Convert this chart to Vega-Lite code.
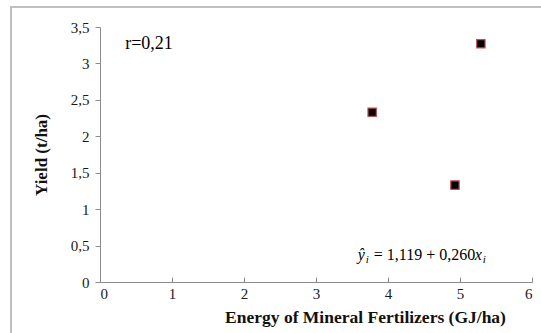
{
  "$schema": "https://vega.github.io/schema/vega-lite/v6.json",
  "autosize": "none",
  "width": 432,
  "height": 255,
  "padding": {"left": 100, "top": 27, "right": 9, "bottom": 51},
  "background": "white",
  "config": {
    "view": {"stroke": null},
    "font": "Liberation Serif",
    "axis": {"labelFont": "Liberation Serif", "labelFontSize": 15, "labelColor": "#1a1a1a", "titleFont": "Liberation Serif"}
  },
  "datasets": {
    "points": [
      {"energy": 3.78, "yield": 2.33},
      {"energy": 4.93, "yield": 1.33},
      {"energy": 5.29, "yield": 3.27}
    ]
  },
  "encoding": {
    "x": {
      "field": "energy", "type": "quantitative",
      "scale": {"domain": [0, 6], "nice": false, "zero": false},
      "axis": {
        "title": "Energy of Mineral Fertilizers  (GJ/ha)",
        "values": [0, 1, 2, 3, 4, 5, 6],
        "format": "d",
        "grid": false,
        "domainColor": "#8c8c8c", "tickColor": "#8c8c8c",
        "tickSize": -5,
        "labelPadding": 9,
        "labelFont": "Liberation Serif", "labelFontSize": 15, "labelColor": "#1a1a1a",
        "titleFont": "Liberation Serif", "titleFontSize": 17.5, "titleFontWeight": "bold", "titleColor": "#111",
        "titleX": 265, "titleY": 40, "titleAnchor": "middle", "titleBaseline": "alphabetic"
      }
    },
    "y": {
      "field": "yield", "type": "quantitative",
      "scale": {"domain": [0, 3.5], "nice": false, "zero": false},
      "axis": {
        "title": "Yield (t/ha)",
        "values": [0, 0.5, 1, 1.5, 2, 2.5, 3, 3.5],
        "labelExpr": "replace(toString(datum.value), '.', ',')",
        "grid": false,
        "domainColor": "#8c8c8c", "tickColor": "#8c8c8c",
        "tickSize": 5,
        "labelPadding": 6,
        "labelFont": "Liberation Serif", "labelFontSize": 15, "labelColor": "#1a1a1a",
        "titleFont": "Liberation Serif", "titleFontSize": 17, "titleFontWeight": "bold", "titleColor": "#111",
        "titlePadding": 20
      }
    }
  },
  "layer": [
    {
      "data": {"name": "points"},
      "mark": {"type": "point", "shape": "square", "filled": true, "size": 70, "color": "black", "stroke": "#c0504d", "strokeWidth": 1.2, "opacity": 1}
    },
    {
      "data": {"values": [{"energy": 0.35, "yield": 3.27, "t": "r=0,21"}]},
      "mark": {"type": "text", "align": "left", "baseline": "middle", "font": "Liberation Serif", "fontSize": 18, "color": "black"},
      "encoding": {"text": {"field": "t"}}
    },
    {
      "data": {"values": [{"energy": 3.58, "yield": 0.37, "t": "ŷ"}]},
      "mark": {"type": "text", "align": "left", "baseline": "middle", "font": "Liberation Serif", "fontSize": 16, "fontStyle": "italic", "color": "black"},
      "encoding": {"text": {"field": "t"}}
    },
    {
      "data": {"values": [{"energy": 3.58, "yield": 0.37, "t": "i"}]},
      "mark": {"type": "text", "align": "left", "baseline": "middle", "font": "Liberation Serif", "fontSize": 11, "fontStyle": "italic", "color": "black", "dx": 8, "dy": 5},
      "encoding": {"text": {"field": "t"}}
    },
    {
      "data": {"values": [{"energy": 3.58, "yield": 0.37, "t": "= 1,119 + 0,260"}]},
      "mark": {"type": "text", "align": "left", "baseline": "middle", "font": "Liberation Serif", "fontSize": 16, "color": "black", "dx": 16},
      "encoding": {"text": {"field": "t"}}
    },
    {
      "data": {"values": [{"energy": 3.58, "yield": 0.37, "t": "x"}]},
      "mark": {"type": "text", "align": "left", "baseline": "middle", "font": "Liberation Serif", "fontSize": 16, "fontStyle": "italic", "color": "black", "dx": 117},
      "encoding": {"text": {"field": "t"}}
    },
    {
      "data": {"values": [{"energy": 3.58, "yield": 0.37, "t": "i"}]},
      "mark": {"type": "text", "align": "left", "baseline": "middle", "font": "Liberation Serif", "fontSize": 11, "fontStyle": "italic", "color": "black", "dx": 125, "dy": 5},
      "encoding": {"text": {"field": "t"}}
    },
    {
      "data": {"values": [{"energy": -1.236, "yield": 3.775, "yield2": -1}]},
      "mark": {"type": "rule", "color": "#bfbfbf", "strokeWidth": 2},
      "encoding": {"y2": {"field": "yield2"}}
    },
    {
      "data": {"values": [{"energy": -1.25, "energy2": 8, "yield": 3.775}]},
      "mark": {"type": "rule", "color": "#bfbfbf", "strokeWidth": 2},
      "encoding": {"x2": {"field": "energy2"}}
    }
  ]
}
